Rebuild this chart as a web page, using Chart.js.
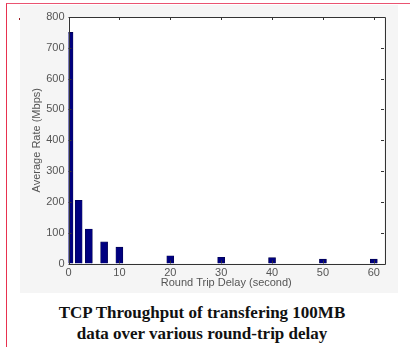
<!DOCTYPE html>
<html>
<head>
<meta charset="utf-8">
<script src="https://cdn.jsdelivr.net/npm/chart.js@4/dist/chart.umd.min.js"></script>
<style>
  html, body { margin: 0; padding: 0; background: #fff; width: 410px; height: 347px; overflow: hidden; }
  #frame { position: absolute; left: 6px; top: 3px; width: 420px; height: 360px;
           border-left: 1px solid #e8314f; border-top: 1px solid #ea5371; }
  #mark { position: absolute; left: 19px; top: 18px; width: 3px; height: 2px; background: #9a1a22; }
  #panel { position: absolute; left: 20px; top: 5px; width: 378px; height: 288px; background: #f5f5f5; }
  #caption { position: absolute; left: 0; top: 302px; width: 404px; text-align: center;
             font-family: "Liberation Serif", "Times New Roman", serif; font-weight: bold;
             font-size: 17px; line-height: 21px; color: #111; }
</style>
</head>
<body>
<div id="frame"></div>
<div id="mark"></div>
<div id="panel"><canvas id="c"></canvas></div>
<div id="caption">TCP Throughput of transfering 100MB<br>data over various round-trip delay</div>
<script>
// Round-trip delay (seconds) and the measured average rate (Mbps)
const delays = [0.2, 2, 4, 7, 10, 20, 30, 40, 50, 60];
const rates  = [750, 205, 112, 70, 53, 25, 20, 19, 14, 14];

// Axis ticks
const xTicks = [0, 10, 20, 30, 40, 50, 60];
const yTicks = [0, 100, 200, 300, 400, 500, 600, 700, 800];

const axisColor = '#333333';
const labelColor = '#555555';
const labelFont = { family: 'Liberation Sans, Arial, sans-serif', size: 11 };

// White axes background, box outline and inward tick marks on all four sides
const axesBox = {
  id: 'axesBox',
  beforeDraw(chart) {
    const { ctx, chartArea: a } = chart;
    ctx.save();
    ctx.fillStyle = '#ffffff';
    ctx.fillRect(a.left, a.top, a.right - a.left, a.bottom - a.top);
    ctx.restore();
  },
  afterDraw(chart) {
    const { ctx, chartArea: a, scales } = chart;
    const len = 3;
    ctx.save();
    ctx.strokeStyle = axisColor;
    ctx.lineWidth = 1;
    ctx.beginPath();
    ctx.rect(Math.round(a.left) + 0.5, Math.round(a.top) + 0.5,
             Math.round(a.right - a.left), Math.round(a.bottom - a.top));
    xTicks.forEach(v => {
      const x = Math.round(scales.x.getPixelForValue(v)) + 0.5;
      ctx.moveTo(x, a.bottom); ctx.lineTo(x, a.bottom - len);
      ctx.moveTo(x, a.top); ctx.lineTo(x, a.top + len);
    });
    yTicks.forEach(v => {
      const y = Math.round(scales.y.getPixelForValue(v)) + 0.5;
      ctx.moveTo(a.left, y); ctx.lineTo(a.left + len, y);
      ctx.moveTo(a.right, y); ctx.lineTo(a.right - len, y);
    });
    ctx.stroke();
    ctx.restore();
  }
};

new Chart(document.getElementById('c'), {
  type: 'bar',
  data: {
    datasets: [{
      data: delays.map((d, i) => ({ x: d, y: rates[i] })),
      backgroundColor: '#00007f',
      borderColor: '#000044',
      borderWidth: 0.6,
      barThickness: 7,
      clip: 0
    }]
  },
  options: {
    responsive: true,
    maintainAspectRatio: false,
    animation: false,
    devicePixelRatio: 1,
    layout: { padding: { top: 12, right: 14, left: 0, bottom: 0 } },
    plugins: { legend: { display: false }, tooltip: { enabled: false } },
    scales: {
      x: {
        type: 'linear',
        min: 0,
        max: 62,
        offset: false,
        afterBuildTicks: s => { s.ticks = xTicks.map(v => ({ value: v })); },
        afterFit: s => { s.height = 29.5; },
        grid: { display: false, drawTicks: false },
        border: { display: false },
        ticks: { color: labelColor, font: labelFont, padding: 3, maxRotation: 0, autoSkip: false },
        title: { display: true, text: 'Round Trip Delay (second)', color: labelColor,
                 font: labelFont, padding: { top: 0, bottom: 3 } }
      },
      y: {
        min: 0,
        max: 800,
        afterBuildTicks: s => { s.ticks = yTicks.map(v => ({ value: v })); },
        afterFit: s => { s.width = 48.5; },
        grid: { display: false, drawTicks: false },
        border: { display: false },
        ticks: { color: labelColor, font: labelFont, padding: 4, autoSkip: false },
        title: { display: true, text: 'Average Rate (Mbps)', color: labelColor,
                 font: labelFont, padding: { top: 10, bottom: 0 } }
      }
    }
  },
  plugins: [axesBox]
});
</script>
</body>
</html>
